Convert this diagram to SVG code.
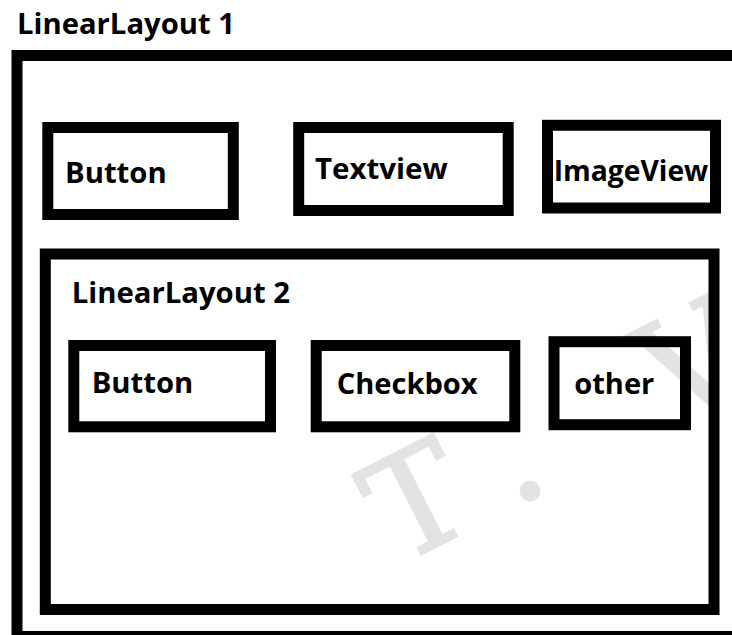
<svg xmlns="http://www.w3.org/2000/svg" width="732" height="635" viewBox="0 0 732 635">
<style>
.box{fill:none;stroke:#000;stroke-width:11}
.lbl{font-family:"Open Sans","Liberation Sans",sans-serif;font-weight:bold;font-size:28px;fill:#000}
.wm{font-family:"DejaVu Serif","Liberation Serif",serif;font-size:140px;fill:#e3e3e3;stroke:#e3e3e3;stroke-width:2.5}
</style>
<defs>
<clipPath id="wmclip"><rect x="0" y="0" width="712" height="635"/></clipPath>
</defs>
<rect x="0" y="0" width="732" height="635" fill="#fff"/>
<g clip-path="url(#wmclip)">
<g id="watermark" transform="translate(397.6,566.6) rotate(-27)">
<text class="wm" x="0" y="0">T</text>
<text class="wm" x="130" y="0">.</text>
<text class="wm" x="307" y="0">V</text>
</g>
</g>
<g id="linearlayout1">
<rect class="box" x="17" y="55.5" width="730" height="581"/>
<text class="lbl" x="17" y="34.3" font-size="27" textLength="218" lengthAdjust="spacingAndGlyphs">LinearLayout 1</text>
</g>
<g id="button1">
<rect class="box" x="47.8" y="127.5" width="185.5" height="87"/>
<text class="lbl" x="65" y="183" textLength="101.7" lengthAdjust="spacingAndGlyphs">Button</text>
</g>
<g id="textview">
<rect class="box" x="298.7" y="127.5" width="209.5" height="83"/>
<text class="lbl" x="315" y="178.6" textLength="132.7" lengthAdjust="spacingAndGlyphs">Textview</text>
</g>
<g id="imageview">
<rect class="box" x="547.5" y="125.3" width="168" height="82.7"/>
<text class="lbl" x="553.7" y="180.7" textLength="154.6" lengthAdjust="spacingAndGlyphs">ImageView</text>
</g>
<g id="linearlayout2">
<rect class="box" x="45.3" y="254" width="668.7" height="355.5"/>
<text class="lbl" x="71.7" y="302.7" font-size="27" textLength="218.3" lengthAdjust="spacingAndGlyphs">LinearLayout 2</text>
</g>
<g id="button2">
<rect class="box" x="73.8" y="345.5" width="196.7" height="81.3"/>
<text class="lbl" x="91.7" y="393.3" textLength="101.6" lengthAdjust="spacingAndGlyphs">Button</text>
</g>
<g id="checkbox">
<rect class="box" x="316.2" y="345.5" width="198.6" height="81.3"/>
<text class="lbl" x="336.7" y="394" textLength="141" lengthAdjust="spacingAndGlyphs">Checkbox</text>
</g>
<g id="other">
<rect class="box" x="554" y="341.7" width="131.5" height="83"/>
<text class="lbl" x="574.3" y="394" textLength="80" lengthAdjust="spacingAndGlyphs">other</text>
</g>
<g id="connectors"></g>
</svg>
